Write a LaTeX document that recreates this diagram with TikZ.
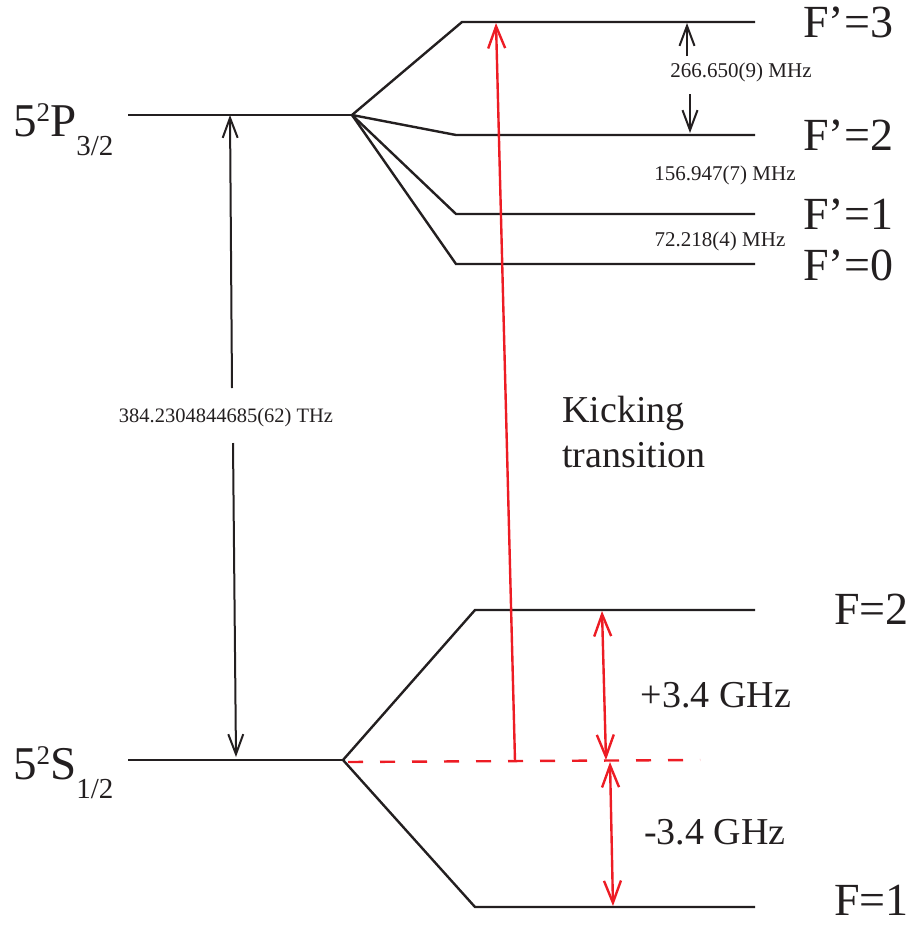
\documentclass[tikz,border=0pt]{standalone}
\usepackage{fontspec}
\setmainfont{Liberation Serif}
\usetikzlibrary{arrows.meta}
\definecolor{ink}{HTML}{231F20}
\definecolor{laser}{HTML}{ED1C24}
\tikzset{
  level/.style={draw=ink, line width=2.4pt, line join=miter},
  barb/.style={draw=ink, line width=2pt, -{Straight Barb[length=20pt,width=15pt,line width=2pt]}},
  redarrow/.style={draw=laser, line width=2.4pt, -{Straight Barb[length=22pt,width=17pt,line width=2.4pt]}},
  reddouble/.style={draw=laser, line width=2.4pt, {Straight Barb[length=22pt,width=17pt,line width=2.4pt]}-{Straight Barb[length=22pt,width=17pt,line width=2.4pt]}},
  reddash/.style={draw=laser, line width=2.4pt, dash pattern=on 15pt off 17pt},
  biglabel/.style={anchor=west, inner sep=0pt, text=ink, font=\fontsize{46}{50}\selectfont},
  namelabel/.style={anchor=base west, inner sep=0pt, text=ink, font=\fontsize{47}{50}\selectfont},
  freqlabel/.style={inner sep=0pt, text=ink, font=\fontsize{21}{24}\selectfont},
  midlabel/.style={inner sep=0pt, text=ink, font=\fontsize{38}{45}\selectfont}
}
\begin{document}
\begin{tikzpicture}[x=1pt, y=-1pt]
\useasboundingbox (0,0) rectangle (917,926);

% excited state 5P3/2 and its hyperfine fan
\coordinate (Pl) at (128,115);
\coordinate (Pf) at (352,115);
\coordinate (F3a) at (462,22);  \coordinate (F3b) at (755,22);
\coordinate (F2a) at (456,135); \coordinate (F2b) at (755,135);
\coordinate (F1a) at (456,214); \coordinate (F1b) at (755,214);
\coordinate (F0a) at (456,264); \coordinate (F0b) at (755,264);
\draw[level] (Pl) -- (Pf);
\draw[level] (Pf) -- (F3a) -- (F3b);
\draw[level] (Pf) -- (F2a) -- (F2b);
\draw[level] (Pf) -- (F1a) -- (F1b);
\draw[level] (Pf) -- (F0a) -- (F0b);

% ground state 5S1/2 and its hyperfine fan
\coordinate (Sl) at (128,760);
\coordinate (Sf) at (343,760);
\coordinate (G2a) at (475,610); \coordinate (G2b) at (755,610);
\coordinate (G1a) at (475,907); \coordinate (G1b) at (755,907);
\draw[level] (Sl) -- (Sf);
\draw[level] (Sf) -- (G2a) -- (G2b);
\draw[level] (Sf) -- (G1a) -- (G1b);

% level names
\node[namelabel] (Pname) at (13,136)
  {5\raisebox{15pt}{\fontsize{27}{28}\selectfont 2}P\raisebox{-19pt}{\fontsize{29}{30}\selectfont 3/2}};
\node[namelabel] (Sname) at (13,779)
  {5\raisebox{15pt}{\fontsize{27}{28}\selectfont 2}S\raisebox{-19pt}{\fontsize{29}{30}\selectfont 1/2}};
\node[biglabel] (lF3) at (803,22) {F’=3};
\node[biglabel] (lF2) at (803,135) {F’=2};
\node[biglabel] (lF1) at (803,214) {F’=1};
\node[biglabel] (lF0) at (803,265) {F’=0};
\node[biglabel] (lG2) at (834,609) {F=2};
\node[biglabel] (lG1) at (834,900) {F=1};

% optical frequency between the fine-structure levels
\node[freqlabel, font=\fontsize{20.5}{24}\selectfont] (thz) at (226,418) {384.2304844685(62) THz};
\coordinate (Ptip) at (230,115);
\coordinate (Stip) at (236,757);
\coordinate (gapT) at (232,388);
\coordinate (gapB) at (233,443);
\draw[barb] (gapT) -- (Ptip);
\draw[barb] (gapB) -- (Stip);

% hyperfine splittings
\node[freqlabel] (f32) at (741,72) {266.650(9) MHz};
\node[freqlabel] (f21) at (725,175) {156.947(7) MHz};
\node[freqlabel] (f10) at (720,241) {72.218(4) MHz};
\coordinate (u0) at (687,56);  \coordinate (u1) at (687,23);
\coordinate (d0) at (690,94);  \coordinate (d1) at (690,133);
\draw[barb] (u0) -- (u1);
\draw[barb] (d0) -- (d1);

% kicking laser and ground-state splitting
\coordinate (mid0) at (348,762);
\coordinate (mid1) at (700,760);
\draw[reddash] (mid0) -- (mid1);
\coordinate (kb) at (515,761);
\coordinate (kt) at (496,23);
\draw[redarrow] (kb) -- (kt);
\coordinate (pa) at (602,611); \coordinate (pb) at (606,760);
\coordinate (ma) at (610,762); \coordinate (mb) at (613,906);
\draw[reddouble] (pa) -- (pb);
\draw[reddouble] (ma) -- (mb);

\node[midlabel, anchor=west, align=left] (kick) at (562,432) {Kicking\\transition};
\node[midlabel] (plus) at (716,695) {+3.4 GHz};
\node[midlabel] (minus) at (715,832) {-3.4 GHz};
\end{tikzpicture}
\end{document}
